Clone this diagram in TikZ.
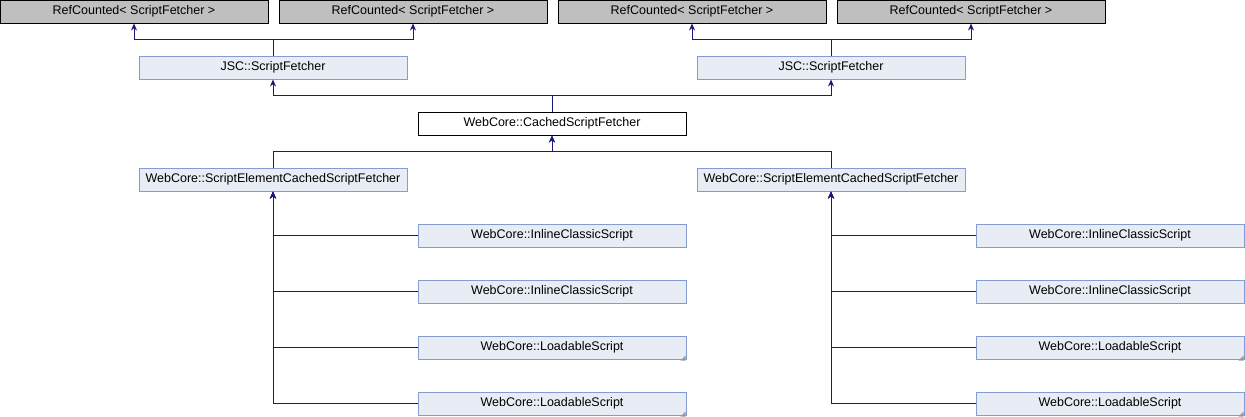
\documentclass[tikz,border=0pt]{standalone}
\usepackage{fontspec}
\setmainfont{Liberation Sans}
\usetikzlibrary{arrows,arrows.meta,shapes}
\definecolor{clsfill}{RGB}{232,236,244}
\definecolor{clsdraw}{RGB}{132,155,206}
\definecolor{basefill}{RGB}{191,191,191}
\definecolor{edgecol}{RGB}{25,25,128}
\tikzstyle{cls}=[rectangle,draw=clsdraw,fill=clsfill,line width=1pt,minimum width=268pt,minimum height=23pt,inner sep=0pt,text height=9pt,text depth=3pt,font=\fontsize{12.5}{14}\selectfont]
\tikzstyle{base}=[cls,draw=black,fill=basefill]
\tikzstyle{cur}=[cls,draw=black,fill=white]
\tikzstyle{inh}=[{Stealth[length=7pt,width=6pt]}-,edgecol,line width=1pt]
\tikzstyle{tri}=[fill=gray!80]

\begin{document}
\begin{tikzpicture}[x=1pt,y=-1pt]
\useasboundingbox (0,0) rectangle (1245,416);
\node[base] (rc1) at (134,11.5) {RefCounted< ScriptFetcher >};
\node[base] (rc2) at (413,11.5) {RefCounted< ScriptFetcher >};
\node[base] (rc3) at (692,11.5) {RefCounted< ScriptFetcher >};
\node[base] (rc4) at (971,11.5) {RefCounted< ScriptFetcher >};
\node[cls] (jsc1) at (273,67.5) {JSC::ScriptFetcher};
\node[cls] (jsc2) at (831,67.5) {JSC::ScriptFetcher};
\node[cur] (csf) at (552,123.5) {WebCore::CachedScriptFetcher};
\node[cls] (sec1) at (273,179.5) {WebCore::ScriptElementCachedScriptFetcher};
\node[cls] (sec2) at (831,179.5) {WebCore::ScriptElementCachedScriptFetcher};
\node[cls] (ic1) at (552,235.5) {WebCore::InlineClassicScript};
\node[cls] (ic2) at (552,291.5) {WebCore::InlineClassicScript};
\node[cls] (ls1) at (552,347.5) {WebCore::LoadableScript};
\node[cls] (ls2) at (552,403.5) {WebCore::LoadableScript};
\node[cls] (ic3) at (1110,235.5) {WebCore::InlineClassicScript};
\node[cls] (ic4) at (1110,291.5) {WebCore::InlineClassicScript};
\node[cls] (ls3) at (1110,347.5) {WebCore::LoadableScript};
\node[cls] (ls4) at (1110,403.5) {WebCore::LoadableScript};
\foreach \n in {ls1,ls2,ls3,ls4}
  \fill[tri] ([shift={(-1,1)}]\n.south east) -- ++(-5,0) -- ++(5,-5) -- cycle;
% inheritance
\draw[inh] (rc1.south) |- ([yshift=16]jsc1.north) -- (jsc1.north);
\draw[inh] (rc2.south) |- ([yshift=16]jsc1.north);
\draw[inh] (rc3.south) |- ([yshift=16]jsc2.north) -- (jsc2.north);
\draw[inh] (rc4.south) |- ([yshift=16]jsc2.north);
\draw[inh] (jsc1.south) |- ([yshift=16]csf.north) -- (csf.north);
\draw[inh] (jsc2.south) |- ([yshift=16]csf.north);
\draw[inh] (csf.south) |- ([yshift=16]sec1.north) -- (sec1.north);
\draw[inh] (csf.south) |- ([yshift=16]sec2.north) -- (sec2.north);
\foreach \n in {ic1,ic2,ls1,ls2}
  \draw[inh] (sec1.south) |- (\n.west);
\foreach \n in {ic3,ic4,ls3,ls4}
  \draw[inh] (sec2.south) |- (\n.west);
\end{tikzpicture}
\end{document}
